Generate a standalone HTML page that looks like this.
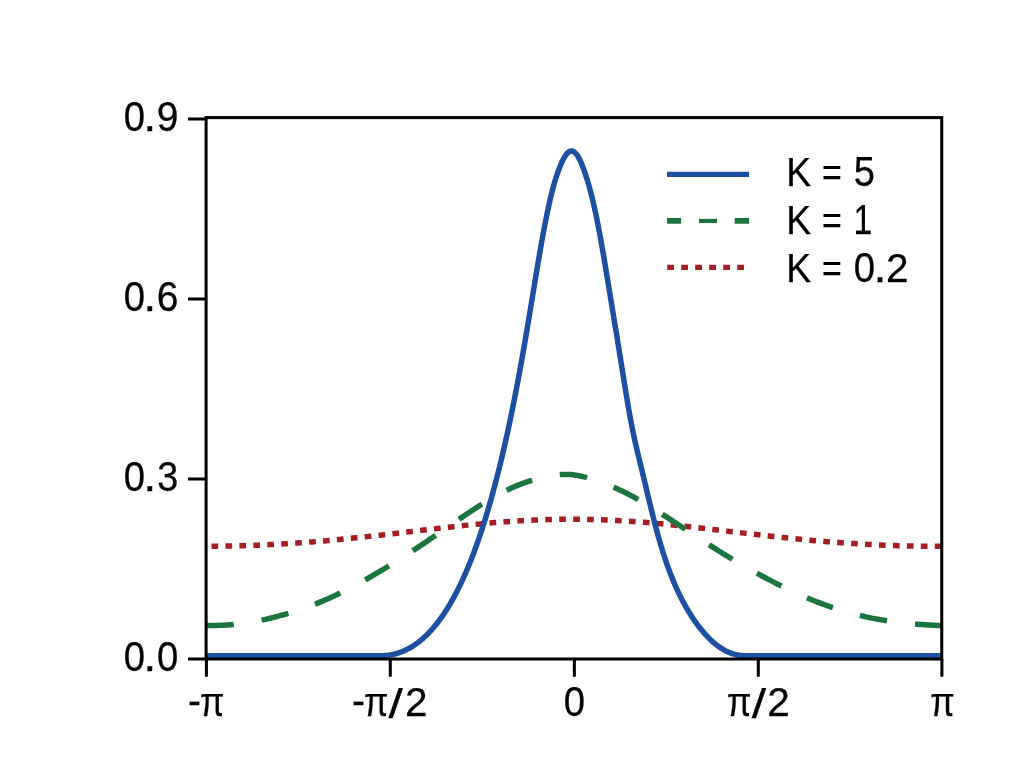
<!DOCTYPE html>
<html><head><meta charset="utf-8"><title>K plot</title>
<style>
html,body{margin:0;padding:0;background:#fff;}
svg{display:block;}
text{font-family:"Liberation Sans", sans-serif;font-size:40px;fill:#000;stroke:#000;stroke-width:0.25px;}
</style></head><body>
<svg width="1024" height="768" viewBox="0 0 1024 768">
<title>K = 5, K = 1, K = 0.2</title>
<desc>Line chart from -π to π (ticks -π, -π/2, 0, π/2, π) with y axis 0.0, 0.3, 0.6, 0.9 and legend K = 5 (solid), K = 1 (dashed), K = 0.2 (dotted).</desc>
<rect width="1024" height="768" fill="#ffffff"/>
<defs><clipPath id="ax"><rect x="206.3" y="117.6" width="735.45" height="541.4"/></clipPath></defs>
<g clip-path="url(#ax)" fill="none" stroke-width="5.5" stroke-linejoin="round">
<path d="M211.50,546.27 L213.94,546.25 L216.39,546.23 L218.83,546.20 L221.27,546.17 L223.72,546.14 L226.16,546.10 L228.60,546.05 L231.05,546.00 L233.49,545.95 L235.93,545.89 L238.38,545.83 L240.82,545.76 L243.27,545.69 L245.71,545.61 L248.15,545.53 L250.60,545.45 L253.04,545.36 L255.48,545.27 L257.93,545.17 L260.37,545.07 L262.81,544.96 L265.26,544.85 L267.70,544.73 L270.14,544.61 L272.59,544.49 L275.03,544.36 L277.47,544.22 L279.92,544.09 L282.36,543.95 L284.80,543.80 L287.25,543.65 L289.69,543.49 L292.13,543.34 L294.58,543.17 L297.02,543.01 L299.47,542.84 L301.91,542.66 L304.35,542.48 L306.80,542.30 L309.24,542.11 L311.68,541.92 L314.13,541.72 L316.57,541.52 L319.01,541.32 L321.46,541.11 L323.90,540.90 L326.34,540.69 L328.79,540.47 L331.23,540.25 L333.67,540.03 L336.12,539.80 L338.56,539.57 L341.00,539.33 L343.45,539.09 L345.89,538.85 L348.33,538.61 L350.78,538.36 L353.22,538.11 L355.67,537.86 L358.11,537.60 L360.55,537.34 L363.00,537.08 L365.44,536.82 L367.88,536.55 L370.33,536.29 L372.77,536.02 L375.21,535.74 L377.66,535.47 L380.10,535.19 L382.54,534.91 L384.99,534.63 L387.43,534.35 L389.87,534.07 L392.32,533.79 L394.76,533.50 L397.20,533.22 L399.65,532.93 L402.09,532.64 L404.53,532.35 L406.98,532.06 L409.42,531.77 L411.87,531.49 L414.31,531.20 L416.75,530.91 L419.20,530.62 L421.64,530.33 L424.08,530.04 L426.53,529.75 L428.97,529.47 L431.41,529.18 L433.86,528.89 L436.30,528.61 L438.74,528.33 L441.19,528.05 L443.63,527.77 L446.07,527.49 L448.52,527.22 L450.96,526.95 L453.40,526.68 L455.85,526.41 L458.29,526.14 L460.73,525.88 L463.18,525.62 L465.62,525.37 L468.07,525.11 L470.51,524.86 L472.95,524.62 L475.40,524.38 L477.84,524.14 L480.28,523.91 L482.73,523.68 L485.17,523.45 L487.61,523.23 L490.06,523.01 L492.50,522.80 L494.94,522.60 L497.39,522.40 L499.83,522.20 L502.27,522.01 L504.72,521.82 L507.16,521.64 L509.60,521.47 L512.05,521.30 L514.49,521.14 L516.93,520.98 L519.38,520.83 L521.82,520.69 L524.27,520.55 L526.71,520.42 L529.15,520.30 L531.60,520.18 L534.04,520.07 L536.48,519.96 L538.93,519.86 L541.37,519.77 L543.81,519.69 L546.26,519.61 L548.70,519.54 L551.14,519.48 L553.59,519.42 L556.03,519.38 L558.47,519.34 L560.92,519.30 L563.36,519.27 L565.80,519.26 L568.25,519.24 L570.69,519.24 L573.13,519.24 L575.58,519.25 L578.02,519.27 L580.47,519.29 L582.91,519.33 L585.35,519.37 L587.80,519.41 L590.24,519.47 L592.68,519.53 L595.13,519.59 L597.57,519.67 L600.01,519.75 L602.46,519.84 L604.90,519.94 L607.34,520.04 L609.79,520.15 L612.23,520.27 L614.67,520.39 L617.12,520.52 L619.56,520.65 L622.00,520.80 L624.45,520.95 L626.89,521.10 L629.33,521.26 L631.78,521.43 L634.22,521.60 L636.67,521.78 L639.11,521.96 L641.55,522.15 L644.00,522.35 L646.44,522.55 L648.88,522.75 L651.33,522.96 L653.77,523.18 L656.21,523.40 L658.66,523.62 L661.10,523.85 L663.54,524.08 L665.99,524.32 L668.43,524.56 L670.87,524.80 L673.32,525.05 L675.76,525.30 L678.20,525.56 L680.65,525.82 L683.09,526.08 L685.53,526.34 L687.98,526.61 L690.42,526.88 L692.87,527.15 L695.31,527.42 L697.75,527.70 L700.20,527.98 L702.64,528.26 L705.08,528.54 L707.53,528.82 L709.97,529.11 L712.41,529.39 L714.86,529.68 L717.30,529.97 L719.74,530.26 L722.19,530.54 L724.63,530.83 L727.07,531.12 L729.52,531.41 L731.96,531.70 L734.40,531.99 L736.85,532.28 L739.29,532.57 L741.73,532.86 L744.18,533.14 L746.62,533.43 L749.07,533.71 L751.51,534.00 L753.95,534.28 L756.40,534.56 L758.84,534.84 L761.28,535.12 L763.73,535.40 L766.17,535.67 L768.61,535.95 L771.06,536.22 L773.50,536.49 L775.94,536.75 L778.39,537.02 L780.83,537.28 L783.27,537.54 L785.72,537.79 L788.16,538.05 L790.60,538.30 L793.05,538.55 L795.49,538.79 L797.93,539.03 L800.38,539.27 L802.82,539.51 L805.27,539.74 L807.71,539.97 L810.15,540.20 L812.60,540.42 L815.04,540.64 L817.48,540.85 L819.93,541.06 L822.37,541.27 L824.81,541.47 L827.26,541.67 L829.70,541.87 L832.14,542.06 L834.59,542.25 L837.03,542.43 L839.47,542.61 L841.92,542.79 L844.36,542.96 L846.80,543.13 L849.25,543.30 L851.69,543.46 L854.13,543.61 L856.58,543.76 L859.02,543.91 L861.47,544.05 L863.91,544.19 L866.35,544.32 L868.80,544.45 L871.24,544.58 L873.68,544.70 L876.13,544.82 L878.57,544.93 L881.01,545.04 L883.46,545.14 L885.90,545.24 L888.34,545.34 L890.79,545.43 L893.23,545.51 L895.67,545.59 L898.12,545.67 L900.56,545.74 L903.00,545.81 L905.45,545.88 L907.89,545.94 L910.33,545.99 L912.78,546.04 L915.22,546.09 L917.67,546.13 L920.11,546.16 L922.55,546.20 L925.00,546.23 L927.44,546.25 L929.88,546.27 L932.33,546.28 L934.77,546.29 L937.21,546.30 L939.66,546.30 L942.10,546.29" stroke="#a51e24" stroke-dasharray="6.7 7.257"/>
<path d="M206.20,625.60 L208.66,625.55 L211.12,625.50 L213.58,625.45 L216.04,625.39 L218.51,625.33 L220.97,625.25 L223.43,625.15 L225.89,625.04 L228.35,624.90 L230.81,624.73 L233.27,624.54 L235.73,624.31 L238.20,624.05 L240.66,623.76 L243.12,623.44 L245.58,623.09 L248.04,622.72 L250.50,622.31 L252.96,621.89 L255.42,621.43 L257.89,620.95 L260.35,620.45 L262.81,619.93 L265.27,619.38 L267.73,618.81 L270.19,618.22 L272.65,617.62 L275.11,616.99 L277.57,616.35 L280.04,615.68 L282.50,615.00 L284.96,614.30 L287.42,613.58 L289.88,612.85 L292.34,612.09 L294.80,611.31 L297.26,610.51 L299.73,609.69 L302.19,608.85 L304.65,607.99 L307.11,607.11 L309.57,606.20 L312.03,605.27 L314.49,604.32 L316.95,603.35 L319.42,602.36 L321.88,601.34 L324.34,600.30 L326.80,599.23 L329.26,598.14 L331.72,597.03 L334.18,595.89 L336.64,594.73 L339.11,593.55 L341.57,592.35 L344.03,591.13 L346.49,589.89 L348.95,588.63 L351.41,587.35 L353.87,586.05 L356.33,584.73 L358.79,583.40 L361.26,582.05 L363.72,580.68 L366.18,579.30 L368.64,577.90 L371.10,576.49 L373.56,575.07 L376.02,573.63 L378.48,572.18 L380.95,570.72 L383.41,569.25 L385.87,567.76 L388.33,566.27 L390.79,564.76 L393.25,563.24 L395.71,561.70 L398.17,560.16 L400.64,558.61 L403.10,557.04 L405.56,555.46 L408.02,553.87 L410.48,552.27 L412.94,550.66 L415.40,549.04 L417.86,547.41 L420.32,545.76 L422.79,544.11 L425.25,542.45 L427.71,540.78 L430.17,539.09 L432.63,537.41 L435.09,535.71 L437.55,534.02 L440.01,532.32 L442.48,530.62 L444.94,528.92 L447.40,527.21 L449.86,525.52 L452.32,523.82 L454.78,522.13 L457.24,520.45 L459.70,518.77 L462.17,517.11 L464.63,515.45 L467.09,513.80 L469.55,512.17 L472.01,510.55 L474.47,508.95 L476.93,507.36 L479.39,505.79 L481.85,504.25 L484.32,502.73 L486.78,501.23 L489.24,499.76 L491.70,498.32 L494.16,496.91 L496.62,495.53 L499.08,494.19 L501.54,492.88 L504.01,491.61 L506.47,490.38 L508.93,489.20 L511.39,488.05 L513.85,486.95 L516.31,485.90 L518.77,484.90 L521.23,483.95 L523.70,483.05 L526.16,482.19 L528.62,481.38 L531.08,480.61 L533.54,479.88 L536.00,479.20 L538.46,478.55 L540.92,477.94 L543.38,477.36 L545.85,476.82 L548.31,476.31 L550.77,475.84 L553.23,475.43 L555.69,475.07 L558.15,474.78 L560.61,474.56 L563.07,474.43 L565.54,474.38 L568.00,474.43 L570.46,474.58 L572.92,474.82 L575.38,475.15 L577.84,475.56 L580.30,476.04 L582.76,476.58 L585.23,477.19 L587.69,477.84 L590.15,478.54 L592.61,479.28 L595.07,480.06 L597.53,480.88 L599.99,481.74 L602.45,482.63 L604.92,483.56 L607.38,484.53 L609.84,485.53 L612.30,486.57 L614.76,487.65 L617.22,488.76 L619.68,489.91 L622.14,491.09 L624.60,492.30 L627.07,493.55 L629.53,494.83 L631.99,496.15 L634.45,497.49 L636.91,498.86 L639.37,500.25 L641.83,501.68 L644.29,503.12 L646.76,504.59 L649.22,506.07 L651.68,507.58 L654.14,509.10 L656.60,510.64 L659.06,512.19 L661.52,513.76 L663.98,515.34 L666.45,516.92 L668.91,518.52 L671.37,520.12 L673.83,521.73 L676.29,523.34 L678.75,524.95 L681.21,526.57 L683.67,528.18 L686.13,529.80 L688.60,531.42 L691.06,533.03 L693.52,534.65 L695.98,536.26 L698.44,537.87 L700.90,539.47 L703.36,541.06 L705.82,542.66 L708.29,544.24 L710.75,545.81 L713.21,547.38 L715.67,548.94 L718.13,550.48 L720.59,552.02 L723.05,553.54 L725.51,555.05 L727.98,556.55 L730.44,558.03 L732.90,559.51 L735.36,560.97 L737.82,562.42 L740.28,563.86 L742.74,565.28 L745.20,566.70 L747.66,568.10 L750.13,569.48 L752.59,570.86 L755.05,572.22 L757.51,573.57 L759.97,574.91 L762.43,576.24 L764.89,577.55 L767.35,578.85 L769.82,580.14 L772.28,581.41 L774.74,582.68 L777.20,583.92 L779.66,585.16 L782.12,586.38 L784.58,587.58 L787.04,588.77 L789.51,589.94 L791.97,591.10 L794.43,592.24 L796.89,593.37 L799.35,594.47 L801.81,595.56 L804.27,596.63 L806.73,597.68 L809.19,598.72 L811.66,599.73 L814.12,600.73 L816.58,601.70 L819.04,602.65 L821.50,603.59 L823.96,604.50 L826.42,605.39 L828.88,606.26 L831.35,607.11 L833.81,607.94 L836.27,608.75 L838.73,609.53 L841.19,610.30 L843.65,611.04 L846.11,611.77 L848.57,612.47 L851.04,613.15 L853.50,613.82 L855.96,614.46 L858.42,615.08 L860.88,615.68 L863.34,616.26 L865.80,616.82 L868.26,617.35 L870.73,617.87 L873.19,618.37 L875.65,618.84 L878.11,619.30 L880.57,619.73 L883.03,620.15 L885.49,620.55 L887.95,620.93 L890.41,621.29 L892.88,621.63 L895.34,621.96 L897.80,622.27 L900.26,622.57 L902.72,622.85 L905.18,623.11 L907.64,623.36 L910.10,623.60 L912.57,623.82 L915.03,624.03 L917.49,624.23 L919.95,624.41 L922.41,624.58 L924.87,624.75 L927.33,624.90 L929.79,625.04 L932.26,625.17 L934.72,625.29 L937.18,625.40 L939.64,625.50 L942.10,625.60" stroke="#1b753e" stroke-dasharray="27.6 28.2"/>
<path d="M206.20,655.75 L207.02,655.75 L207.84,655.75 L208.66,655.75 L209.47,655.75 L210.29,655.75 L211.11,655.75 L211.93,655.75 L212.75,655.75 L213.57,655.75 L214.39,655.75 L215.20,655.75 L216.02,655.75 L216.84,655.75 L217.66,655.75 L218.48,655.75 L219.30,655.75 L220.12,655.75 L220.93,655.75 L221.75,655.75 L222.57,655.75 L223.39,655.75 L224.21,655.75 L225.03,655.75 L225.85,655.75 L226.66,655.75 L227.48,655.75 L228.30,655.75 L229.12,655.75 L229.94,655.75 L230.76,655.75 L231.58,655.75 L232.39,655.75 L233.21,655.75 L234.03,655.75 L234.85,655.75 L235.67,655.75 L236.49,655.75 L237.31,655.75 L238.12,655.75 L238.94,655.75 L239.76,655.75 L240.58,655.75 L241.40,655.75 L242.22,655.75 L243.04,655.75 L243.85,655.75 L244.67,655.75 L245.49,655.75 L246.31,655.75 L247.13,655.75 L247.95,655.75 L248.77,655.75 L249.58,655.75 L250.40,655.75 L251.22,655.75 L252.04,655.75 L252.86,655.75 L253.68,655.75 L254.50,655.75 L255.31,655.75 L256.13,655.75 L256.95,655.75 L257.77,655.75 L258.59,655.75 L259.41,655.75 L260.23,655.75 L261.04,655.75 L261.86,655.75 L262.68,655.75 L263.50,655.75 L264.32,655.75 L265.14,655.75 L265.96,655.75 L266.77,655.75 L267.59,655.75 L268.41,655.75 L269.23,655.75 L270.05,655.75 L270.87,655.75 L271.69,655.75 L272.50,655.75 L273.32,655.75 L274.14,655.75 L274.96,655.75 L275.78,655.75 L276.60,655.75 L277.42,655.75 L278.23,655.75 L279.05,655.75 L279.87,655.75 L280.69,655.75 L281.51,655.75 L282.33,655.75 L283.15,655.75 L283.96,655.75 L284.78,655.75 L285.60,655.75 L286.42,655.75 L287.24,655.75 L288.06,655.75 L288.88,655.75 L289.69,655.75 L290.51,655.75 L291.33,655.75 L292.15,655.75 L292.97,655.75 L293.79,655.75 L294.61,655.75 L295.42,655.75 L296.24,655.75 L297.06,655.75 L297.88,655.75 L298.70,655.75 L299.52,655.75 L300.34,655.75 L301.15,655.75 L301.97,655.75 L302.79,655.75 L303.61,655.75 L304.43,655.75 L305.25,655.75 L306.07,655.75 L306.88,655.75 L307.70,655.75 L308.52,655.75 L309.34,655.75 L310.16,655.75 L310.98,655.75 L311.80,655.75 L312.61,655.75 L313.43,655.75 L314.25,655.75 L315.07,655.75 L315.89,655.75 L316.71,655.75 L317.53,655.75 L318.34,655.75 L319.16,655.75 L319.98,655.75 L320.80,655.75 L321.62,655.75 L322.44,655.75 L323.26,655.75 L324.07,655.75 L324.89,655.75 L325.71,655.75 L326.53,655.75 L327.35,655.75 L328.17,655.75 L328.99,655.75 L329.81,655.75 L330.62,655.75 L331.44,655.75 L332.26,655.75 L333.08,655.75 L333.90,655.75 L334.72,655.75 L335.54,655.75 L336.35,655.75 L337.17,655.75 L337.99,655.75 L338.81,655.75 L339.63,655.75 L340.45,655.75 L341.27,655.75 L342.08,655.75 L342.90,655.75 L343.72,655.75 L344.54,655.75 L345.36,655.75 L346.18,655.75 L347.00,655.75 L347.81,655.75 L348.63,655.75 L349.45,655.75 L350.27,655.75 L351.09,655.75 L351.91,655.75 L352.73,655.75 L353.54,655.75 L354.36,655.75 L355.18,655.75 L356.00,655.75 L356.82,655.75 L357.64,655.75 L358.46,655.75 L359.27,655.75 L360.09,655.75 L360.91,655.75 L361.73,655.75 L362.55,655.75 L363.37,655.75 L364.19,655.75 L365.00,655.75 L365.82,655.75 L366.64,655.75 L367.46,655.75 L368.28,655.75 L369.10,655.75 L369.92,655.75 L370.73,655.75 L371.55,655.75 L372.37,655.75 L373.19,655.75 L374.01,655.75 L374.83,655.75 L375.65,655.75 L376.46,655.75 L377.28,655.75 L378.10,655.75 L378.92,655.75 L379.74,655.75 L380.56,655.75 L381.38,655.75 L382.19,655.72 L383.01,655.70 L383.83,655.65 L384.65,655.60 L385.47,655.54 L386.29,655.46 L387.11,655.38 L387.92,655.28 L388.74,655.17 L389.56,655.05 L390.38,654.91 L391.20,654.77 L392.02,654.61 L392.84,654.44 L393.65,654.25 L394.47,654.06 L395.29,653.85 L396.11,653.63 L396.93,653.39 L397.75,653.14 L398.57,652.88 L399.38,652.61 L400.20,652.32 L401.02,652.02 L401.84,651.70 L402.66,651.38 L403.48,651.03 L404.30,650.68 L405.11,650.30 L405.93,649.92 L406.75,649.52 L407.57,649.11 L408.39,648.68 L409.21,648.23 L410.03,647.77 L410.84,647.30 L411.66,646.81 L412.48,646.31 L413.30,645.79 L414.12,645.25 L414.94,644.70 L415.76,644.14 L416.57,643.55 L417.39,642.95 L418.21,642.34 L419.03,641.71 L419.85,641.06 L420.67,640.39 L421.49,639.71 L422.30,639.01 L423.12,638.30 L423.94,637.56 L424.76,636.81 L425.58,636.04 L426.40,635.25 L427.22,634.45 L428.03,633.63 L428.85,632.78 L429.67,631.92 L430.49,631.04 L431.31,630.15 L432.13,629.23 L432.95,628.29 L433.76,627.34 L434.58,626.36 L435.40,625.37 L436.22,624.35 L437.04,623.32 L437.86,622.26 L438.68,621.19 L439.49,620.09 L440.31,618.98 L441.13,617.84 L441.95,616.68 L442.77,615.50 L443.59,614.29 L444.41,613.07 L445.22,611.82 L446.04,610.55 L446.86,609.26 L447.68,607.95 L448.50,606.61 L449.32,605.25 L450.14,603.87 L450.95,602.46 L451.77,601.03 L452.59,599.57 L453.41,598.09 L454.23,596.59 L455.05,595.06 L455.87,593.51 L456.68,591.93 L457.50,590.32 L458.32,588.69 L459.14,587.04 L459.96,585.35 L460.78,583.64 L461.60,581.91 L462.41,580.15 L463.23,578.36 L464.05,576.54 L464.87,574.69 L465.69,572.82 L466.51,570.92 L467.33,568.99 L468.14,567.03 L468.96,565.04 L469.78,563.03 L470.60,560.98 L471.42,558.90 L472.24,556.79 L473.06,554.66 L473.87,552.49 L474.69,550.29 L475.51,548.05 L476.33,545.79 L477.15,543.50 L477.97,541.17 L478.79,538.81 L479.60,536.41 L480.42,533.99 L481.24,531.52 L482.06,529.03 L482.88,526.50 L483.70,523.94 L484.52,521.34 L485.33,518.70 L486.15,516.03 L486.97,513.32 L487.79,510.58 L488.61,507.80 L489.43,504.98 L490.25,502.13 L491.06,499.23 L491.88,496.30 L492.70,493.33 L493.52,490.32 L494.34,487.27 L495.16,484.19 L495.98,481.06 L496.79,477.89 L497.61,474.68 L498.43,471.42 L499.25,468.13 L500.07,464.79 L500.89,461.41 L501.71,457.99 L502.52,454.52 L503.34,451.01 L504.16,447.46 L504.98,443.86 L505.80,440.22 L506.62,436.53 L507.44,432.80 L508.25,429.02 L509.07,425.19 L509.89,421.32 L510.71,417.40 L511.53,413.43 L512.35,409.42 L513.17,405.36 L513.98,401.25 L514.80,397.10 L515.62,392.90 L516.44,388.65 L517.26,384.35 L518.08,380.01 L518.90,375.61 L519.71,371.17 L520.53,366.69 L521.35,362.16 L522.17,357.58 L522.99,352.96 L523.81,348.29 L524.63,343.58 L525.44,338.83 L526.26,334.03 L527.08,329.20 L527.90,324.34 L528.72,319.44 L529.54,314.52 L530.36,309.57 L531.17,304.60 L531.99,299.62 L532.81,294.63 L533.63,289.63 L534.45,284.64 L535.27,279.66 L536.09,274.70 L536.90,269.76 L537.72,264.85 L538.54,259.99 L539.36,255.17 L540.18,250.42 L541.00,245.74 L541.82,241.13 L542.63,236.61 L543.45,232.18 L544.27,227.83 L545.09,223.58 L545.91,219.43 L546.73,215.38 L547.55,211.42 L548.36,207.57 L549.18,203.83 L550.00,200.20 L550.82,196.69 L551.64,193.32 L552.46,190.08 L553.28,186.99 L554.09,184.04 L554.91,181.23 L555.73,178.56 L556.55,176.01 L557.37,173.58 L558.19,171.27 L559.01,169.06 L559.82,166.96 L560.64,164.95 L561.46,163.05 L562.28,161.27 L563.10,159.60 L563.92,158.07 L564.74,156.67 L565.55,155.41 L566.37,154.29 L567.19,153.34 L568.01,152.54 L568.83,151.90 L569.65,151.43 L570.47,151.12 L571.28,150.99 L572.10,151.04 L572.92,151.26 L573.74,151.66 L574.56,152.23 L575.38,152.98 L576.20,153.89 L577.02,154.98 L577.83,156.23 L578.65,157.63 L579.47,159.19 L580.29,160.88 L581.11,162.72 L581.93,164.67 L582.75,166.74 L583.56,168.91 L584.38,171.19 L585.20,173.56 L586.02,176.03 L586.84,178.60 L587.66,181.26 L588.48,184.03 L589.29,186.90 L590.11,189.89 L590.93,192.99 L591.75,196.21 L592.57,199.55 L593.39,203.01 L594.21,206.60 L595.02,210.32 L595.84,214.16 L596.66,218.12 L597.48,222.19 L598.30,226.38 L599.12,230.68 L599.94,235.08 L600.75,239.58 L601.57,244.17 L602.39,248.84 L603.21,253.57 L604.03,258.37 L604.85,263.22 L605.67,268.12 L606.48,273.04 L607.30,277.98 L608.12,282.94 L608.94,287.91 L609.76,292.89 L610.58,297.88 L611.40,302.87 L612.21,307.87 L613.03,312.86 L613.85,317.87 L614.67,322.88 L615.49,327.90 L616.31,332.92 L617.13,337.96 L617.94,343.00 L618.76,348.05 L619.58,353.11 L620.40,358.19 L621.22,363.28 L622.04,368.38 L622.86,373.50 L623.67,378.61 L624.49,383.72 L625.31,388.81 L626.13,393.84 L626.95,398.81 L627.77,403.69 L628.59,408.46 L629.40,413.11 L630.22,417.63 L631.04,422.01 L631.86,426.25 L632.68,430.35 L633.50,434.31 L634.32,438.13 L635.13,441.83 L635.95,445.43 L636.77,448.93 L637.59,452.37 L638.41,455.77 L639.23,459.14 L640.05,462.51 L640.86,465.88 L641.68,469.26 L642.50,472.66 L643.32,476.09 L644.14,479.53 L644.96,482.98 L645.78,486.44 L646.59,489.89 L647.41,493.34 L648.23,496.78 L649.05,500.20 L649.87,503.60 L650.69,506.97 L651.51,510.30 L652.32,513.60 L653.14,516.86 L653.96,520.08 L654.78,523.26 L655.60,526.38 L656.42,529.46 L657.24,532.49 L658.05,535.46 L658.87,538.38 L659.69,541.24 L660.51,544.05 L661.33,546.81 L662.15,549.50 L662.97,552.14 L663.78,554.73 L664.60,557.25 L665.42,559.73 L666.24,562.14 L667.06,564.51 L667.88,566.82 L668.70,569.08 L669.51,571.29 L670.33,573.45 L671.15,575.56 L671.97,577.63 L672.79,579.65 L673.61,581.63 L674.43,583.57 L675.24,585.46 L676.06,587.32 L676.88,589.14 L677.70,590.91 L678.52,592.66 L679.34,594.37 L680.16,596.04 L680.97,597.68 L681.79,599.28 L682.61,600.86 L683.43,602.40 L684.25,603.92 L685.07,605.40 L685.89,606.86 L686.70,608.28 L687.52,609.68 L688.34,611.06 L689.16,612.40 L689.98,613.72 L690.80,615.02 L691.62,616.29 L692.43,617.54 L693.25,618.77 L694.07,619.97 L694.89,621.15 L695.71,622.30 L696.53,623.44 L697.35,624.55 L698.16,625.64 L698.98,626.72 L699.80,627.77 L700.62,628.80 L701.44,629.81 L702.26,630.80 L703.08,631.77 L703.89,632.72 L704.71,633.65 L705.53,634.56 L706.35,635.45 L707.17,636.32 L707.99,637.17 L708.81,638.00 L709.62,638.81 L710.44,639.61 L711.26,640.38 L712.08,641.14 L712.90,641.87 L713.72,642.59 L714.54,643.28 L715.35,643.96 L716.17,644.62 L716.99,645.26 L717.81,645.87 L718.63,646.47 L719.45,647.05 L720.27,647.61 L721.08,648.15 L721.90,648.68 L722.72,649.18 L723.54,649.66 L724.36,650.12 L725.18,650.56 L726.00,650.99 L726.81,651.39 L727.63,651.78 L728.45,652.14 L729.27,652.49 L730.09,652.82 L730.91,653.13 L731.73,653.42 L732.54,653.69 L733.36,653.94 L734.18,654.18 L735.00,654.40 L735.82,654.60 L736.64,654.78 L737.46,654.95 L738.27,655.09 L739.09,655.23 L739.91,655.34 L740.73,655.44 L741.55,655.53 L742.37,655.60 L743.19,655.66 L744.00,655.70 L744.82,655.73 L745.64,655.75 L746.46,655.75 L747.28,655.75 L748.10,655.75 L748.92,655.75 L749.73,655.75 L750.55,655.75 L751.37,655.75 L752.19,655.75 L753.01,655.75 L753.83,655.75 L754.65,655.75 L755.46,655.75 L756.28,655.75 L757.10,655.75 L757.92,655.75 L758.74,655.75 L759.56,655.75 L760.38,655.75 L761.19,655.75 L762.01,655.75 L762.83,655.75 L763.65,655.75 L764.47,655.75 L765.29,655.75 L766.11,655.75 L766.92,655.75 L767.74,655.75 L768.56,655.75 L769.38,655.75 L770.20,655.75 L771.02,655.75 L771.84,655.75 L772.65,655.75 L773.47,655.75 L774.29,655.75 L775.11,655.75 L775.93,655.75 L776.75,655.75 L777.57,655.75 L778.38,655.75 L779.20,655.75 L780.02,655.75 L780.84,655.75 L781.66,655.75 L782.48,655.75 L783.30,655.75 L784.11,655.75 L784.93,655.75 L785.75,655.75 L786.57,655.75 L787.39,655.75 L788.21,655.75 L789.03,655.75 L789.84,655.75 L790.66,655.75 L791.48,655.75 L792.30,655.75 L793.12,655.75 L793.94,655.75 L794.76,655.75 L795.57,655.75 L796.39,655.75 L797.21,655.75 L798.03,655.75 L798.85,655.75 L799.67,655.75 L800.49,655.75 L801.30,655.75 L802.12,655.75 L802.94,655.75 L803.76,655.75 L804.58,655.75 L805.40,655.75 L806.22,655.75 L807.03,655.75 L807.85,655.75 L808.67,655.75 L809.49,655.75 L810.31,655.75 L811.13,655.75 L811.95,655.75 L812.76,655.75 L813.58,655.75 L814.40,655.75 L815.22,655.75 L816.04,655.75 L816.86,655.75 L817.68,655.75 L818.49,655.75 L819.31,655.75 L820.13,655.75 L820.95,655.75 L821.77,655.75 L822.59,655.75 L823.41,655.75 L824.23,655.75 L825.04,655.75 L825.86,655.75 L826.68,655.75 L827.50,655.75 L828.32,655.75 L829.14,655.75 L829.96,655.75 L830.77,655.75 L831.59,655.75 L832.41,655.75 L833.23,655.75 L834.05,655.75 L834.87,655.75 L835.69,655.75 L836.50,655.75 L837.32,655.75 L838.14,655.75 L838.96,655.75 L839.78,655.75 L840.60,655.75 L841.42,655.75 L842.23,655.75 L843.05,655.75 L843.87,655.75 L844.69,655.75 L845.51,655.75 L846.33,655.75 L847.15,655.75 L847.96,655.75 L848.78,655.75 L849.60,655.75 L850.42,655.75 L851.24,655.75 L852.06,655.75 L852.88,655.75 L853.69,655.75 L854.51,655.75 L855.33,655.75 L856.15,655.75 L856.97,655.75 L857.79,655.75 L858.61,655.75 L859.42,655.75 L860.24,655.75 L861.06,655.75 L861.88,655.75 L862.70,655.75 L863.52,655.75 L864.34,655.75 L865.15,655.75 L865.97,655.75 L866.79,655.75 L867.61,655.75 L868.43,655.75 L869.25,655.75 L870.07,655.75 L870.88,655.75 L871.70,655.75 L872.52,655.75 L873.34,655.75 L874.16,655.75 L874.98,655.75 L875.80,655.75 L876.61,655.75 L877.43,655.75 L878.25,655.75 L879.07,655.75 L879.89,655.75 L880.71,655.75 L881.53,655.75 L882.34,655.75 L883.16,655.75 L883.98,655.75 L884.80,655.75 L885.62,655.75 L886.44,655.75 L887.26,655.75 L888.07,655.75 L888.89,655.75 L889.71,655.75 L890.53,655.75 L891.35,655.75 L892.17,655.75 L892.99,655.75 L893.80,655.75 L894.62,655.75 L895.44,655.75 L896.26,655.75 L897.08,655.75 L897.90,655.75 L898.72,655.75 L899.53,655.75 L900.35,655.75 L901.17,655.75 L901.99,655.75 L902.81,655.75 L903.63,655.75 L904.45,655.75 L905.26,655.75 L906.08,655.75 L906.90,655.75 L907.72,655.75 L908.54,655.75 L909.36,655.75 L910.18,655.75 L910.99,655.75 L911.81,655.75 L912.63,655.75 L913.45,655.75 L914.27,655.75 L915.09,655.75 L915.91,655.75 L916.72,655.75 L917.54,655.75 L918.36,655.75 L919.18,655.75 L920.00,655.75 L920.82,655.75 L921.64,655.75 L922.45,655.75 L923.27,655.75 L924.09,655.75 L924.91,655.75 L925.73,655.75 L926.55,655.75 L927.37,655.75 L928.18,655.75 L929.00,655.75 L929.82,655.75 L930.64,655.75 L931.46,655.75 L932.28,655.75 L933.10,655.75 L933.91,655.75 L934.73,655.75 L935.55,655.75 L936.37,655.75 L937.19,655.75 L938.01,655.75 L938.83,655.75 L939.64,655.75 L940.46,655.75 L941.28,655.75 L942.10,655.75" stroke="#1d50a2"/>
</g>
<rect x="206.1" y="117.6" width="735.65" height="541.40" fill="none" stroke="#000" stroke-width="3.05"/>
<path d="M188,119H206.1 M188,299H206.1 M188,479H206.1 M188,659H206.1 M206.4,659.0V676.8 M390.3,659.0V676.8 M574.35,659.0V676.8 M758.3,659.0V676.8 M941.9,659.0V676.8" stroke="#000" stroke-width="3.05" fill="none"/>
<text y="130.8"><tspan x="123.72" y="130.80" font-size="42px" textLength="21.26" lengthAdjust="spacingAndGlyphs">0</tspan><tspan x="143.39" y="130.80" font-size="45px" textLength="13.13" lengthAdjust="spacingAndGlyphs">.</tspan><tspan x="156.85" y="130.80" font-size="42px" textLength="21.72" lengthAdjust="spacingAndGlyphs">9</tspan></text>
<text y="310.8"><tspan x="123.72" y="310.80" font-size="42px" textLength="21.26" lengthAdjust="spacingAndGlyphs">0</tspan><tspan x="143.39" y="310.80" font-size="45px" textLength="13.13" lengthAdjust="spacingAndGlyphs">.</tspan><tspan x="156.70" y="310.80" font-size="42px" textLength="21.72" lengthAdjust="spacingAndGlyphs">6</tspan></text>
<text y="490.8"><tspan x="123.72" y="490.80" font-size="42px" textLength="21.26" lengthAdjust="spacingAndGlyphs">0</tspan><tspan x="143.39" y="490.80" font-size="45px" textLength="13.13" lengthAdjust="spacingAndGlyphs">.</tspan><tspan x="157.30" y="490.80" font-size="42px" textLength="21.02" lengthAdjust="spacingAndGlyphs">3</tspan></text>
<text y="670.8"><tspan x="123.72" y="670.80" font-size="42px" textLength="21.26" lengthAdjust="spacingAndGlyphs">0</tspan><tspan x="143.39" y="670.80" font-size="45px" textLength="13.13" lengthAdjust="spacingAndGlyphs">.</tspan><tspan x="157.07" y="670.80" font-size="42px" textLength="21.26" lengthAdjust="spacingAndGlyphs">0</tspan></text>
<text y="716.2"><tspan x="187.96" y="714.30" font-size="41px" textLength="12.97" lengthAdjust="spacingAndGlyphs">-</tspan><tspan x="199.98" y="716.20" font-size="40px" textLength="24.42" lengthAdjust="spacingAndGlyphs">π</tspan></text>
<text y="716.2"><tspan x="351.96" y="714.30" font-size="41px" textLength="12.97" lengthAdjust="spacingAndGlyphs">-</tspan><tspan x="364.03" y="716.20" font-size="40px" textLength="24.42" lengthAdjust="spacingAndGlyphs">π</tspan><tspan x="388.62" y="718.10" font-size="41px" textLength="14.35" lengthAdjust="spacingAndGlyphs">/</tspan><tspan x="405.11" y="716.20" font-size="41px" textLength="22.57" lengthAdjust="spacingAndGlyphs">2</tspan></text>
<text y="716.2"><tspan x="563.77" y="716.20" font-size="42px" textLength="21.26" lengthAdjust="spacingAndGlyphs">0</tspan></text>
<text y="716.2"><tspan x="726.88" y="716.20" font-size="40px" textLength="24.42" lengthAdjust="spacingAndGlyphs">π</tspan><tspan x="751.72" y="718.10" font-size="41px" textLength="14.35" lengthAdjust="spacingAndGlyphs">/</tspan><tspan x="767.26" y="716.20" font-size="41px" textLength="22.57" lengthAdjust="spacingAndGlyphs">2</tspan></text>
<text y="716.2"><tspan x="930.18" y="716.20" font-size="40px" textLength="24.42" lengthAdjust="spacingAndGlyphs">π</tspan></text>
<g fill="none" stroke-width="5.2"><path d="M667,174.45H749.1" stroke="#1d50a2"/><path d="M667,220.9H681.1M734.7,220.9H749.1" stroke="#1b753e" stroke-width="5.7"/><path d="M698.9,220.95H717" stroke="#1b753e" stroke-width="4.2"/><path d="M667.2,267.4H744" stroke="#a51e24" stroke-dasharray="6.8 7.2"/></g>
<text y="185.9"><tspan x="786.14" y="185.90" font-size="41px" textLength="24.89" lengthAdjust="spacingAndGlyphs">K</tspan> <tspan x="822.12" y="185.90" font-size="41px" textLength="19.78" lengthAdjust="spacingAndGlyphs">=</tspan> <tspan x="853.86" y="185.90" font-size="42px" textLength="21.26" lengthAdjust="spacingAndGlyphs">5</tspan></text>
<text y="234.0"><tspan x="786.14" y="234.00" font-size="41px" textLength="24.89" lengthAdjust="spacingAndGlyphs">K</tspan> <tspan x="822.12" y="234.00" font-size="41px" textLength="19.78" lengthAdjust="spacingAndGlyphs">=</tspan> <tspan x="853.50" y="234.00" font-size="42px" textLength="18.69" lengthAdjust="spacingAndGlyphs">1</tspan></text>
<text y="282.25"><tspan x="786.14" y="282.25" font-size="41px" textLength="24.89" lengthAdjust="spacingAndGlyphs">K</tspan> <tspan x="822.12" y="282.25" font-size="41px" textLength="19.78" lengthAdjust="spacingAndGlyphs">=</tspan> <tspan x="853.77" y="282.25" font-size="42px" textLength="21.26" lengthAdjust="spacingAndGlyphs">0</tspan><tspan x="873.44" y="282.25" font-size="45px" textLength="13.13" lengthAdjust="spacingAndGlyphs">.</tspan><tspan x="886.11" y="282.25" font-size="41px" textLength="22.57" lengthAdjust="spacingAndGlyphs">2</tspan></text>
</svg></body></html>
